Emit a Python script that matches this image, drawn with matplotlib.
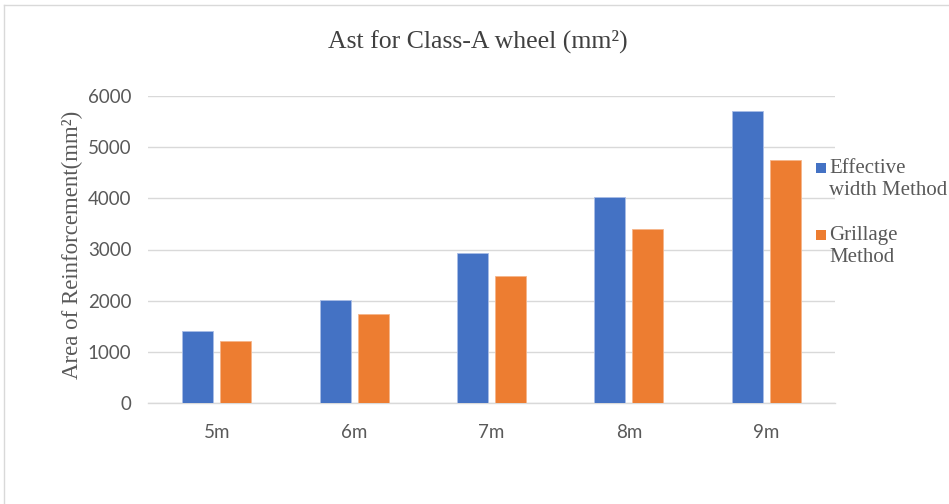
import matplotlib
matplotlib.use("Agg")
import matplotlib.pyplot as plt
import numpy as np
from matplotlib.lines import Line2D
from matplotlib.patches import Rectangle

categories = ["5m", "6m", "7m", "8m", "9m"]
effective = [1400, 2010, 2930, 4030, 5700]
grillage = [1215, 1740, 2485, 3400, 4750]
series_names = ["Effective\nwidth Method", "Grillage\nMethod"]
yticks = [0, 1000, 2000, 3000, 4000, 5000, 6000]

blue = "#4472C4"
orange = "#ED7D31"
grid_c = "#D9D9D9"
txt_c = "#595959"

W, H = 949, 504
fig = plt.figure(figsize=(W/100, H/100), dpi=100)
ax = fig.add_axes([148/W, 1-403/H, (835-148)/W, (403-96)/H])

x = np.arange(len(categories))
w = 0.226
off = 0.138
ax.bar(x - off, effective, w, color=blue, edgecolor="#A9BDE6", linewidth=0.6, zorder=3)
ax.bar(x + off, grillage, w, color=orange, edgecolor="#F5B58A", linewidth=0.6, zorder=3)

ax.set_xlim(-0.5, len(categories) - 0.5)
ax.set_ylim(0, 6000)
ax.set_yticks(yticks)
ax.set_yticklabels([str(t) for t in yticks], fontfamily="Lato", fontsize=13.5, color=txt_c)
ax.set_xticks(x)
ax.set_xticklabels(categories, fontfamily="Lato", fontsize=13.5, color=txt_c)
ax.tick_params(axis="both", length=0)
ax.tick_params(axis="x", pad=15)
ax.tick_params(axis="y", pad=12)
ax.grid(axis="y", color=grid_c, linewidth=1, zorder=0)
for s in ["top", "right", "left"]:
    ax.spines[s].set_visible(False)
ax.spines["bottom"].set_color(grid_c)
ax.spines["bottom"].set_linewidth(1)

fig.text(72/W, 1-245/H, "Area of Reinforcement(mm²)", rotation=90, ha="center", va="center",
         fontfamily="Liberation Serif", fontsize=16.5, color=txt_c)

fig.text(478/W, 1-41/H, "Ast for Class-A wheel (mm²)", ha="center", va="center",
         fontfamily="Liberation Serif", fontsize=18.5, color="#404040")

# legend (manual placement)
legend_items = [(series_names[0], blue, 168), (series_names[1], orange, 235)]
for label, col, yc in legend_items:
    fig.add_artist(Rectangle((816/W, 1-(yc+5)/H), 10/W, 10/H, facecolor=col, edgecolor="none",
                             transform=fig.transFigure))
    fig.text(829/W, 1-(yc-9)/H, label, ha="left", va="top", fontfamily="Liberation Serif",
             fontsize=15, color=txt_c, linespacing=1.2)

# outer border
fig.add_artist(Line2D([4/W, 4/W], [0, 1-5/H], color=grid_c, linewidth=1, transform=fig.transFigure))
fig.add_artist(Line2D([4/W, 1], [1-5/H, 1-5/H], color=grid_c, linewidth=1, transform=fig.transFigure))

fig.savefig("out.png", dpi=100)
